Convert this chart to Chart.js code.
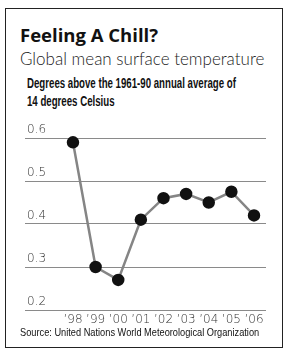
<!DOCTYPE html>
<html>
<head>
<meta charset="utf-8">
<script src="https://cdn.jsdelivr.net/npm/chart.js@4"></script>
<style>
    body { margin: 0; background: #fff; width: 285px; height: 349px; overflow: hidden; position: relative; }
    .frame { position: absolute; left: 5px; top: 8px; width: 276px; height: 338px; border: 1.5px solid #222; }
    .title { position: absolute; left: 20px; top: 22px; font: bold 18.5px "Open Sans", sans-serif; line-height: normal; color: #111; white-space: nowrap; }
    .subtitle { position: absolute; left: 20px; top: 48px; font: 300 17px Lato, sans-serif; color: #222; white-space: nowrap; }
    .note { position: absolute; left: 27px; top: 74px; font: bold 14px "Liberation Sans", sans-serif; color: #111; line-height: 18px; white-space: nowrap; transform: scaleX(0.69); transform-origin: left top; }
    .source { position: absolute; left: 20px; top: 326px; font: 11px "Liberation Sans", sans-serif; line-height: normal; color: #111; white-space: nowrap; transform: scaleX(0.84); transform-origin: left top; }
    #chartWrap { position: absolute; left: 0; top: 110px; width: 285px; height: 222px; }
</style>
</head>
<body>
<div class="frame"></div>
<div class="title">Feeling A Chill?</div>
<div class="subtitle">Global mean surface temperature</div>
<div class="note">Degrees above the 1961-90 annual average of<br>14 degrees Celsius</div>
<div id="chartWrap"><canvas id="tempChart"></canvas></div>
<div class="source">Source: United Nations World Meteorological Organization</div>

<script>
// Chart data
var years = ['\u201998', '\u201999', '\u201900', '\u201901', '\u201902', '\u201903', '\u201904', '\u201905', '\u201906'];
var anomalies = [0.59, 0.30, 0.27, 0.41, 0.46, 0.47, 0.45, 0.475, 0.42];
var yTicks = [0.2, 0.3, 0.4, 0.5, 0.6];

document.addEventListener('DOMContentLoaded', function() {
    var points = years.map(function(label, i) {
        return { x: i, y: anomalies[i] };
    });

    new Chart(document.getElementById('tempChart'), {
        type: 'line',
        data: {
            datasets: [{
                data: points,
                borderColor: '#858585',
                borderWidth: 2.5,
                pointBackgroundColor: '#111',
                pointBorderColor: '#111',
                pointRadius: 5,
                pointHoverRadius: 5,
                tension: 0,
                clip: false
            }]
        },
        options: {
            responsive: true,
            maintainAspectRatio: false,
            animation: false,
            layout: { padding: { top: 28, left: 25, right: 19, bottom: 0 } },
            plugins: { legend: { display: false }, tooltip: { enabled: false } },
            scales: {
                x: {
                    type: 'linear',
                    min: -2.12,
                    max: 8.53,
                    afterBuildTicks: function(axis) {
                        axis.ticks = years.map(function(label, i) { return { value: i }; });
                    },
                    afterFit: function(axis) { axis.height = 22; },
                    grid: { display: false, drawTicks: false },
                    border: { display: false },
                    ticks: {
                        padding: 3,
                        maxRotation: 0,
                        autoSkip: false,
                        color: '#333',
                        font: { family: 'DejaVu Sans', weight: '200', size: 12 },
                        callback: function(value) { return years[value]; }
                    }
                },
                y: {
                    min: 0.2,
                    max: 0.6,
                    afterBuildTicks: function(axis) {
                        axis.ticks = yTicks.map(function(v) { return { value: v }; });
                    },
                    afterFit: function(axis) { axis.width = 0; },
                    grid: { color: '#8a8a8a', lineWidth: 1, drawTicks: false },
                    border: { display: false },
                    ticks: {
                        mirror: true,
                        padding: 2,
                        labelOffset: -8,
                        color: '#333',
                        font: { family: 'DejaVu Sans', weight: '200', size: 12 },
                        callback: function(value) { return value.toFixed(1); }
                    }
                }
            }
        }
    });
});
</script>
</body>
</html>
